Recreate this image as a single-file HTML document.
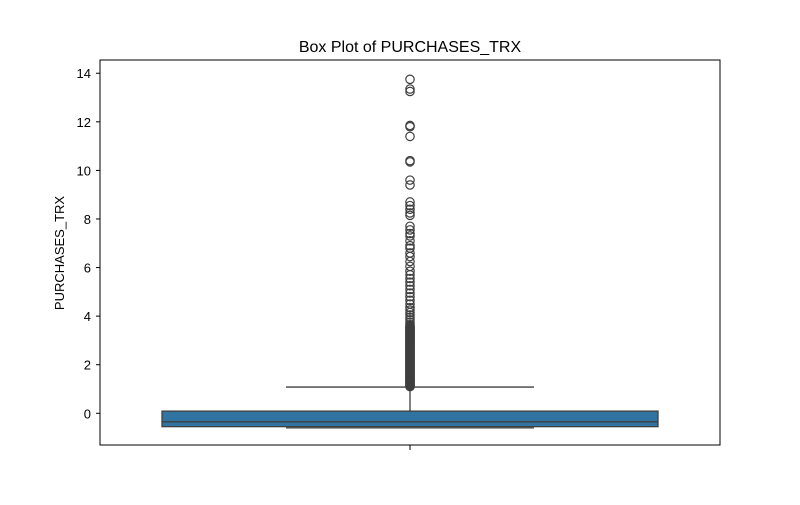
<!DOCTYPE html>
<html><head><meta charset="utf-8"><style>
body{margin:0;background:#fff;font-family:"Liberation Sans","DejaVu Sans",sans-serif;}
</style></head><body>
<svg id="chart" width="800" height="500" xmlns="http://www.w3.org/2000/svg">
<rect width="800" height="500" fill="#fff"/>
<text x="410" y="52" text-anchor="middle" font-size="16" fill="#000">Box Plot of PURCHASES_TRX</text>
<text transform="translate(64,253) rotate(-90)" text-anchor="middle" font-size="13" fill="#000">PURCHASES_TRX</text>
<g id="yticks"></g>
<g id="plot"></g>
<rect x="100" y="60" width="620" height="385" fill="none" stroke="#000" stroke-width="1"/>
<line x1="410" y1="445" x2="410" y2="450" stroke="#000"/>
</svg>
<script>
const yTicks=[0,2,4,6,8,10,12,14];
const boxStats=[-0.55,-0.35,0.09,-0.6,1.08]; // q1, median, q3, whiskerLow, whiskerHigh
const outliers=[13.75,13.35,13.25,11.85,11.8,11.4,10.4,10.35,9.6,9.4,8.7,8.55,8.4,8.25,8.15,7.7,7.55,7.4,7.3,7.1,6.9,6.8,6.6,6.45,6.25,6.05,5.85,5.7,5.55,5.4,5.25,5.1,4.95,4.8,4.65,4.5,4.35,4.25,4.15,4.05,3.95,3.85,3.75,3.65,3.55,3.45,3.35,3.25,3.15,3.05,2.95,2.85,2.75,2.65,2.55,2.45,2.35,2.25,2.15,2.05,1.95,1.85,1.75,1.65,1.55,1.45,1.35,1.25,1.15,1.1,
3.6,3.5,3.4,3.3,3.2,3.1,3.0,2.9,2.8,2.7,2.6,2.5,2.4,2.3,2.2,2.1,2.0,1.9,1.8,1.7,1.6,1.5,1.4,1.3,1.2,
3.575,3.525,3.475,3.425,3.375,3.325,3.275,3.225,3.175,3.125,3.075,3.025,2.975,2.925,2.875,2.825,2.775,2.725,2.675,2.625,2.575,2.525,2.475,2.425,2.375,2.325,2.275,2.225,2.175,2.125,2.075,2.025,1.975,1.925,1.875,1.825,1.775,1.725,1.675,1.625,1.575,1.525,1.475,1.425,1.375,1.325,1.275,1.225,1.175,1.125];
const NS='http://www.w3.org/2000/svg';
function y(v){return 413.3-v*24.29;}
function mk(t,a,p){const e=document.createElementNS(NS,t);for(const k in a)e.setAttribute(k,a[k]);p.appendChild(e);return e;}
const yt=document.getElementById('yticks'),pl=document.getElementById('plot');
yTicks.forEach(v=>{
 const l=mk('line',{x1:96,x2:100,y1:y(v),y2:y(v),stroke:'#000'},yt);
 
 
 const t=mk('text',{x:91,y:y(v)+5,'text-anchor':'end','font-size':13,fill:'#000'},yt);
 t.textContent=v;
 
 
});
const [q1,med,q3,wl,wh]=boxStats;
const c='#3f3f3f';
let e;
e=mk('line',{x1:410,x2:410,y1:y(q3),y2:y(wh),stroke:c,'stroke-width':1.3},pl);

e=mk('line',{x1:286,x2:534,y1:y(wh),y2:y(wh),stroke:c,'stroke-width':1.3},pl);

e=mk('line',{x1:286,x2:534,y1:y(wl),y2:y(wl),stroke:c,'stroke-width':1.3},pl);

e=mk('rect',{x:162,width:496,y:y(q3),height:y(q1)-y(q3),fill:'#3274a1',stroke:c,'stroke-width':1.3},pl);

e=mk('line',{x1:162,x2:658,y1:y(med),y2:y(med),stroke:c,'stroke-width':1.3},pl);

outliers.forEach(v=>{
 const o=mk('circle',{cx:410,cy:y(v),r:4.2,fill:'none',stroke:c,'stroke-width':1.2},pl);
 
 
});
</script>
</body></html>
